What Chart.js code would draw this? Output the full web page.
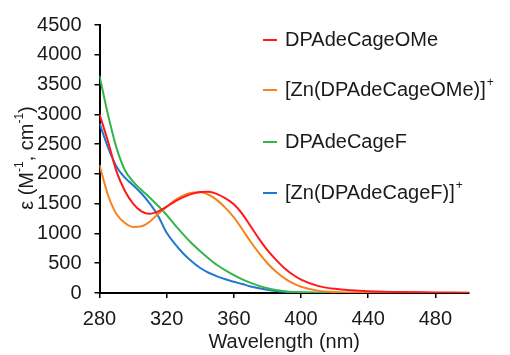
<!DOCTYPE html>
<html>
<head>
<meta charset="utf-8">
<script src="https://cdn.jsdelivr.net/npm/chart.js@4.4.0/dist/chart.umd.min.js"></script>
<style>
  html, body { margin: 0; padding: 0; background: #fff; }
  #wrap { width: 510px; height: 355px; }
</style>
</head>
<body>
<div id="wrap"><canvas id="uvChart"></canvas></div>
<script>
// wavelengths (nm) shared by all four spectra
const wavelengths = [280, 285, 290, 295, 300, 305, 310, 315, 320, 325, 330, 335, 340, 345, 350,
    355, 360, 365, 370, 375, 380, 385, 390, 395, 400, 410, 420, 430, 440, 460, 480, 500];

// extinction coefficients, M-1 cm-1
const cageOMe = [3000, 2550, 2050, 1720, 1500, 1370, 1330, 1370, 1450, 1540, 1610, 1665, 1695, 1700, 1660,
    1590, 1490, 1330, 1120, 910, 720, 560, 420, 310, 225, 120, 70, 45, 30, 15, 10, 5];
const znCageOMe = [2150, 1650, 1330, 1180, 1110, 1120, 1200, 1330, 1450, 1560, 1640, 1685, 1690, 1650, 1560,
    1430, 1270, 1070, 860, 670, 500, 360, 250, 165, 105, 40, 15, 8, 5, 3, 2, 0];
const cageF = [3650, 3000, 2450, 2070, 1870, 1730, 1600, 1460, 1310, 1140, 980, 830, 700, 580, 470,
    380, 300, 230, 170, 120, 80, 50, 30, 15, 10, 5, 2, 1, 0, 0, 0, 0];
const znCageF = [2850, 2450, 2130, 1940, 1810, 1670, 1500, 1290, 1010, 820, 660, 530, 420, 340, 280,
    230, 190, 150, 110, 80, 55, 35, 20, 12, 8, 4, 2, 1, 0, 0, 0, 0];

const seriesNames = ['DPAdeCageOMe', '[Zn(DPAdeCageOMe)]', 'DPAdeCageF', '[Zn(DPAdeCageF)]'];
const seriesSup = ['', '+', '', '+'];
const seriesColors = ['#ff1a1a', '#f7821f', '#33b54a', '#2079d0'];
const seriesValues = [cageOMe, znCageOMe, cageF, znCageF];

const xTicks = [280, 320, 360, 400, 440, 480];
const yTicks = [0, 500, 1000, 1500, 2000, 2500, 3000, 3500, 4000, 4500];

const FONT = '"Liberation Sans", Arial, sans-serif';

function toPoints(values) {
    return values.map((v, i) => ({x: wavelengths[i], y: v}));
}

// legend + y title drawn by hand (superscripts)
const extras = {
    id: 'extras',
    afterDraw(chart) {
        const ctx = chart.ctx;
        ctx.save();
        ctx.textBaseline = 'middle';
        const rows = [40, 90, 142, 193];
        seriesNames.forEach((name, i) => {
            const y = rows[i];
            ctx.strokeStyle = seriesColors[i];
            ctx.lineWidth = 2;
            ctx.beginPath();
            ctx.moveTo(263, y);
            ctx.lineTo(277, y);
            ctx.stroke();
            ctx.fillStyle = '#1a1a1a';
            ctx.font = '20px ' + FONT;
            ctx.textAlign = 'left';
            ctx.fillText(name, 285, y);
            if (seriesSup[i]) {
                const w = ctx.measureText(name).width;
                ctx.font = '12px ' + FONT;
                ctx.fillText(seriesSup[i], 285 + w + 1, y - 7);
            }
        });

        // y axis title: ε (M-1, cm-1)
        ctx.translate(27, 158);
        ctx.rotate(-Math.PI / 2);
        const parts = [
            ['ε (M', 20, 0], ['-1', 12, -7], [', cm', 20, 0], ['-1', 12, -7], [')', 20, 0]
        ];
        let total = 0;
        parts.forEach(p => { ctx.font = p[1] + 'px ' + FONT; total += ctx.measureText(p[0]).width; });
        let x = -total / 2;
        parts.forEach(p => {
            ctx.font = p[1] + 'px ' + FONT;
            ctx.fillText(p[0], x, p[2]);
            x += ctx.measureText(p[0]).width;
        });
        ctx.restore();
    }
};

new Chart(document.getElementById('uvChart'), {
    type: 'line',
    data: {
        datasets: seriesNames.map((name, i) => ({
            label: name + seriesSup[i],
            data: toPoints(seriesValues[i]),
            borderColor: seriesColors[i],
            borderWidth: 2,
            pointRadius: 0,
            cubicInterpolationMode: 'monotone',
            fill: false
        }))
    },
    options: {
        responsive: true,
        maintainAspectRatio: false,
        animation: false,
        layout: {padding: {top: 22, right: 41, left: 0, bottom: 0}},
        plugins: {
            legend: {display: false},
            tooltip: {enabled: false}
        },
        scales: {
            x: {
                type: 'linear',
                min: 280,
                max: 500,
                afterFit(scale) { scale.height = 62; },
                border: {display: true, color: '#000', width: 2},
                grid: {drawOnChartArea: false, drawTicks: true, tickLength: 5, color: '#000', lineWidth: 1.5},
                ticks: {
                    stepSize: 20,
                    color: '#1a1a1a',
                    font: {size: 20, family: FONT},
                    padding: 9,
                    maxRotation: 0,
                    callback: v => xTicks.includes(v) ? String(v) : ''
                },
                title: {
                    display: true,
                    text: 'Wavelength (nm)',
                    color: '#1a1a1a',
                    font: {size: 20, family: FONT},
                    padding: {top: 0, bottom: 1}
                }
            },
            y: {
                min: 0,
                max: 4500,
                afterFit(scale) { scale.width = 99.5; },
                border: {display: true, color: '#000', width: 2},
                grid: {drawOnChartArea: false, drawTicks: true, tickLength: 5, color: '#000', lineWidth: 1.5},
                ticks: {
                    stepSize: 250,
                    color: '#1a1a1a',
                    font: {size: 20, family: FONT},
                    padding: 13,
                    callback: v => yTicks.includes(v) ? String(v) : ''
                }
            }
        }
    },
    plugins: [extras]
});
</script>
</body>
</html>
